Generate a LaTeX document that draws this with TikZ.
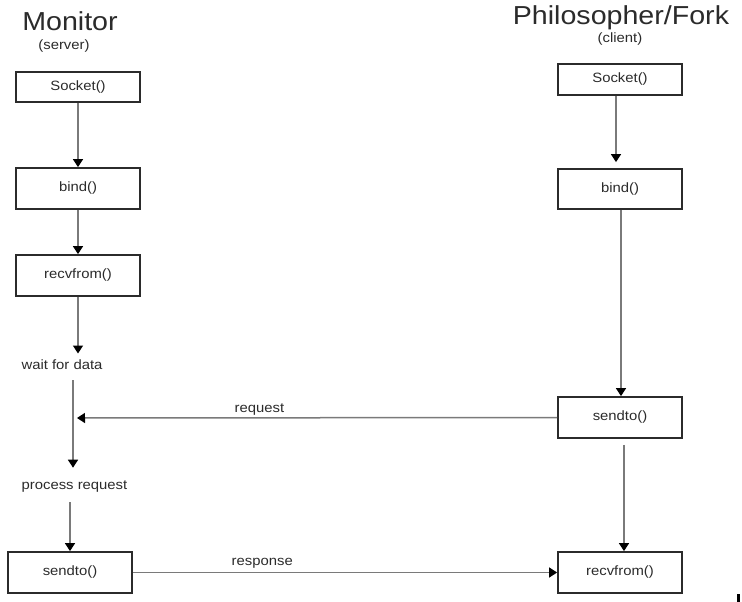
\documentclass[tikz,border=0pt]{standalone}
\usepackage{fontspec}
\setmainfont{Liberation Sans}[FakeStretch=1.1]
\usepackage{xcolor}
\usetikzlibrary{arrows.meta}
\definecolor{txt}{HTML}{2B2B2B}
\definecolor{wire}{HTML}{7A7A7A}

\begin{document}
\begin{tikzpicture}[x=1pt,y=-1pt,
    box/.style={draw=txt,line width=1.8pt,minimum width=124pt,minimum height=41pt,inner sep=0pt,text=txt,font=\fontsize{13.5}{16}\selectfont},
    lbl/.style={text=txt,font=\fontsize{13.5}{16}\selectfont},
    ttl/.style={text=txt,font=\fontsize{26}{30}\selectfont},
    arr/.style={draw=wire,line width=1.5pt,-{Triangle[color=black,width=10pt,length=8pt]}}]
        \useasboundingbox[fill=white] (0,0) rectangle (742,602);
        % Titles
        \node[ttl,anchor=base] (mon) at (70,31) {Monitor};
        \node[lbl] (srv) at (64,46) {(server)};
        \node[ttl,anchor=base] (phil) at (621,25) {Philosopher/Fork};
        \node[lbl] (cli) at (620,39) {(client)};
        % Monitor side
        \node[box,minimum height=30pt] (socketL) at (78,87) {Socket()};
        \node[box] (bindL) at (78,188.5) {bind()};
        \node[box] (recvL) at (78,275.5) {recvfrom()};
        \node[lbl] (wait) at (62,365) {wait for data};
        \node[lbl] (proc) at (74.5,487) {process request};
        \node[box] (sendL) at (70,572.5) {sendto()};
        % Philosopher side
        \node[box,minimum height=31pt] (socketR) at (620,79.5) {Socket()};
        \node[box,minimum height=40pt] (bindR) at (620,189) {bind()};
        \node[box] (sendR) at (620,417.5) {sendto()};
        \node[box] (recvR) at (620,572.5) {recvfrom()};
        \coordinate (reqend) at (77,418);
        % Edges
        \draw[arr] (socketL) -- (bindL);
        \draw[arr] (bindL) -- (recvL);
        \draw[arr,shorten >=3pt] (recvL.south) -- (recvL.south |- wait.north);
        \draw[arr,shorten <=7pt,shorten >=10pt] (wait.south -| 73,0) -- (proc.north -| 73,0);
        \draw[arr,shorten <=6pt] (proc.south -| sendL.north) -- (sendL.north);
        \draw[arr,shorten >=6pt] ([xshift=-4pt]socketR.south) -- ([xshift=-4pt]bindR.north);
        \draw[arr] ([xshift=1pt]bindR.south) -- ([xshift=1pt]sendR.north);
        \draw[arr,shorten <=6pt] ([xshift=4pt]sendR.south) -- ([xshift=4pt]recvR.north);
        \draw[arr] (sendR.west) -- node[lbl,pos=0.62,above,inner sep=2pt] {request} (reqend);
        \draw[arr] (sendL.east) -- node[lbl,pos=0.305,above,inner sep=3pt] {response} (recvR.west);
        % corner mark
        \fill[black] (737,594) rectangle (740,602);
    \end{tikzpicture}
\end{document}
